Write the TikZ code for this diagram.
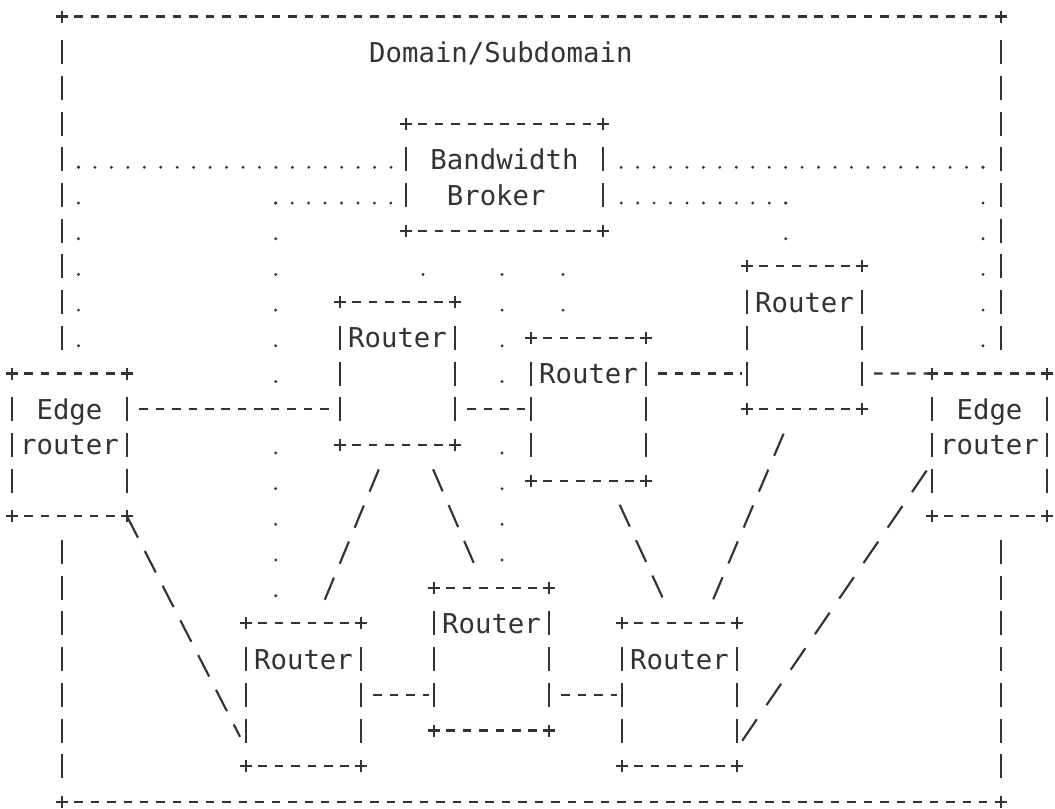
\documentclass[tikz,border=0pt]{standalone}
\usepackage{fontspec}
\usepackage{tikz}
\usepackage{xcolor}
\usetikzlibrary{calc}
\newfontfamily\asciifont{DejaVu Sans Mono}
\definecolor{ink}{HTML}{333333}

\begin{document}
\begin{tikzpicture}[
    x=0.75pt, y=-0.75pt,
    lbl/.style={font=\asciifont\fontsize{20.5pt}{26.8pt}\selectfont, text=ink, inner sep=0pt, anchor=base},
    hside/.style={draw=ink, line width=1.6pt, dash pattern=on 6.375pt off 5.9625pt},
    vside/.style={draw=ink, line width=1.6pt, dash pattern=on 18pt off 8.775pt},
    plus/.style={draw=ink, line width=1.6pt, to path={
        ($(\tikztostart)+(-6,0)$) -- ($(\tikztostart)+(6,0)$)
        ($(\tikztostart)+(0,-6)$) -- ($(\tikztostart)+(0,6)$)}},
    box/.style 2 args={minimum width=#1*0.75pt, minimum height=#2*26.775pt, inner sep=0pt, outer sep=0pt,
      append after command={
        ([xshift=-3.19pt]\tikzlastnode.north west) edge[hside] ([xshift=3.19pt]\tikzlastnode.north east)
        ([xshift=-3.19pt]\tikzlastnode.south west) edge[hside] ([xshift=3.19pt]\tikzlastnode.south east)
        ([yshift=-17.775pt]\tikzlastnode.north west) edge[vside] ([yshift=17.775pt]\tikzlastnode.south west)
        ([yshift=-17.775pt]\tikzlastnode.north east) edge[vside] ([yshift=17.775pt]\tikzlastnode.south east)
        (\tikzlastnode.north west) edge[plus] (\tikzlastnode.north west)
        (\tikzlastnode.north east) edge[plus] (\tikzlastnode.north east)
        (\tikzlastnode.south west) edge[plus] (\tikzlastnode.south west)
        (\tikzlastnode.south east) edge[plus] (\tikzlastnode.south east)}},
    router/.style={box={115}{4}, label={[lbl, yshift=-34.3pt]north:Router}},
    edgebox/.style={box={115}{4}, fill=white, preaction={draw=white, line width=20pt},
      label={[lbl, yshift=-34.3pt]north:Edge}, label={[lbl, yshift=-61.1pt]north:router}},
    link/.style={draw=ink, line width=1.6pt, shorten <=3.75pt, shorten >=3.75pt,
      preaction={draw=white, solid, line width=15pt},
      dash pattern=on 6.375pt off 5.9625pt, dash phase=6.94pt},
    slash/.style={draw=ink, line width=1.6pt, shorten <=9.75pt, shorten >=9.75pt,
      dash pattern=on 18pt off 11.25pt, dash phase=19.05pt},
    hdots/.style={draw=ink, line width=2.4pt, line cap=round, shorten >=3pt,
      dash pattern=on 0pt off 12.3375pt},
    vdots/.style={draw=ink, line width=2.4pt, line cap=round,
      dash pattern=on 0pt off 26.775pt}
  ]
  \useasboundingbox (0,0) rectangle (1055,808);
  \foreach \n in {0,...,22} \coordinate (r\n) at (0,{16.5+35.7*\n});
  \coordinate (h12) at (0,462.75);
  \coordinate (h20) at (0,748.35);

  \node[box={939}{22}, label={[lbl, xshift=-23pt, yshift=-34.3pt]north:Domain/Subdomain}] (domain) at (531.5,409.2) {};
  \node[box={197}{3}, label={[lbl, yshift=-34.3pt]north:Bandwidth},
        label={[lbl, xshift=-6.2pt, yshift=-61.1pt]north:Broker}] (bb) at (504.5,177.15) {};

  \node[edgebox] (edgeL) at (69.5,444.9) {};
  \node[edgebox] (edgeR) at (989.5,444.9) {};
  \node[router] (ra) at (397.5,373.5) {};
  \node[router] (rb) at (588.5,409.2) {};
  \node[router] (rc) at (804.5,337.8) {};
  \node[router] (rd) at (303.5,694.8) {};
  \node[router] (re) at (491.5,659.1) {};
  \node[router] (rf) at (679.5,694.8) {};

  \coordinate (dl1) at (78.5,167.3);
  \coordinate (dl2) at (275.7,203);
  \coordinate (dr2) at (785.7,203);
  \coordinate (dr1) at (983,167.3);
  \coordinate (da) at (423,0);
  \coordinate (dm) at (502,0);
  \coordinate (db) at (563,0);
  \draw[hdots] (dl1) -- (bb.west |- dl1);
  \draw[vdots] (dl1) -- (dl1 |- edgeL.north);
  \draw[hdots] (dl2) -- (bb.west |- dl2);
  \draw[vdots] (dl2) -- (dl2 |- rd.north);
  \draw[hdots] (dr2) -- (bb.east |- dr2);
  \draw[vdots] (dr2) -- (dr2 |- rc.north);
  \draw[hdots] (dr1) -- (bb.east |- dr1);
  \draw[vdots] (dr1) -- (dr1 |- edgeR.north);
  \draw[vdots, shorten <=32.8pt] (bb.south -| da) -- (ra.north -| da);
  \draw[vdots, shorten <=32.8pt] (bb.south -| dm) -- (re.north -| dm);
  \draw[vdots, shorten <=32.8pt] (bb.south -| db) -- (rb.north -| db);

  \draw[link] (edgeL.east |- r11) -- (ra.west |- r11);
  \draw[link] (ra.east |- r11) -- (rb.west |- r11);
  \draw[link] (rb.east |- r10) -- (rc.west |- r10);
  \draw[link] (rc.east |- r10) -- (edgeR.north west);
  \draw[link] (rd.east |- r19) -- (re.west |- r19);
  \draw[link] (re.east |- r19) -- (rf.west |- r19);

  \draw[slash, shorten <=0pt, dash phase=0pt] (edgeL.south east) -- (rd.west |- h20);
  \draw[slash] ([xshift=-6.4pt]ra.south) -- ([xshift=8.6pt]rd.north);
  \draw[slash] ([xshift=18.75pt]ra.south) -- ([xshift=-5.25pt]re.north);
  \draw[slash, shorten >=11pt] ([xshift=15pt]rb.south) -- ([xshift=-3.75pt]rf.north);
  \draw[slash] ([xshift=-7.9pt]rc.south) -- ([xshift=17.6pt]rf.north);
  \draw[slash, shorten <=0pt, shorten >=0pt, dash pattern=on 19.5pt off 12.75pt, dash phase=25.1pt]
    (edgeR.west |- h12) -- (rf.east |- h20);
\end{tikzpicture}
\end{document}
